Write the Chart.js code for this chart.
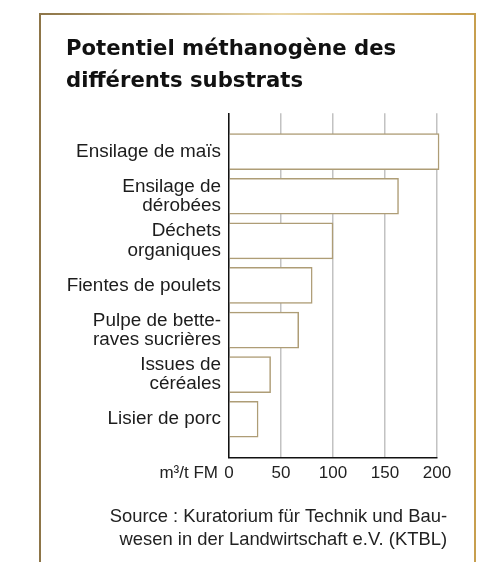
<!DOCTYPE html>
<html lang="fr">
<head>
<meta charset="utf-8">
<title>Potentiel méthanogène des différents substrats</title>
<script src="https://cdn.jsdelivr.net/npm/chart.js@4"></script>
<style>
  html, body { margin: 0; padding: 0; background: #fff; }
  #wrap { position: relative; width: 478px; height: 562px; overflow: hidden; }
  #frame {
    position: absolute; left: 39px; top: 13px; width: 433px; height: 600px;
    border-style: solid; border-width: 2px 2px 0 2px;
    border-image: linear-gradient(90deg, #8d7548, #e9d6a6 55%, #c79f4f) 1;
  }
  canvas { position: absolute; left: 0; top: 0; }
</style>
</head>
<body>
<div id="wrap">
  <div id="frame"></div>
  <canvas id="chart" width="478" height="562"></canvas>
</div>
<script>
// chart data
const substrates = [
  ['Ensilage de maïs'],
  ['Ensilage de', 'dérobées'],
  ['Déchets', 'organiques'],
  ['Fientes de poulets'],
  ['Pulpe de bette-', 'raves sucrières'],
  ['Issues de', 'céréales'],
  ['Lisier de porc']
];
const methaneYield = [202, 163, 100, 80, 67, 40, 28];
const xTickValues = [0, 50, 100, 150, 200];
const unitLabel = 'm³/t FM';
const titleLines = ['Potentiel méthanogène des', 'différents substrats'];
const sourceLines = ['Source : Kuratorium für Technik und Bau-', 'wesen in der Landwirtschaft e.V. (KTBL)'];

const sansFamily = "'Liberation Sans', Arial, sans-serif";
const tickFont = { family: sansFamily, size: 17 };
const tickPad = 6;

// writes the unit just left of the "0" tick
const unitPlugin = {
  id: 'unitLabel',
  afterDraw(chart) {
    const xs = chart.scales.x;
    const ctx = chart.ctx;
    ctx.save();
    ctx.font = tickFont.size + 'px ' + tickFont.family;
    ctx.fillStyle = '#222';
    ctx.textAlign = 'right';
    ctx.textBaseline = 'middle';
    const x0 = xs.getPixelForValue(xTickValues[0]);
    ctx.fillText(unitLabel, x0 - 11, xs.top + tickPad + tickFont.size * 1.2 / 2);
    ctx.restore();
  }
};

new Chart(document.getElementById('chart'), {
  type: 'bar',
  data: {
    datasets: [{
      data: methaneYield.map((v, i) => ({ x: v, y: i })),
      backgroundColor: '#ffffff',
      borderColor: '#ae9d76',
      borderWidth: 1.5,
      barThickness: 36,
      clip: false
    }]
  },
  options: {
    indexAxis: 'y',
    responsive: false,
    animation: false,
    layout: { padding: { top: 14, left: 66, right: 31, bottom: 5 } },
    plugins: {
      legend: { display: false },
      tooltip: { enabled: false },
      title: {
        display: true,
        text: titleLines,
        align: 'start',
        color: '#111',
        font: { family: "'DejaVu Sans', sans-serif", size: 21.2, weight: 'bold', lineHeight: 1.54 },
        padding: { top: 19, bottom: 15 }
      },
      subtitle: {
        display: true,
        position: 'bottom',
        text: sourceLines,
        align: 'end',
        color: '#222',
        font: { family: sansFamily, size: 18.4, lineHeight: 1.25 },
        padding: { top: 15, bottom: 6 }
      }
    },
    scales: {
      x: {
        type: 'linear',
        min: 0,
        max: 200,
        offset: false,
        afterFit(s) { s.paddingRight = 41; },
        afterBuildTicks(s) { s.ticks = xTickValues.map(v => ({ value: v })); },
        grid: { color: '#c2c2c2', lineWidth: 1.5, drawTicks: false },
        border: { display: true, color: '#111', width: 1.5 },
        ticks: { color: '#222', font: tickFont, padding: tickPad }
      },
      y: {
        type: 'linear',
        reverse: true,
        offset: false,
        min: -0.86,
        max: 6.86,
        afterFit(s) { s.width = 163; s.paddingTop = 0; s.paddingBottom = 0; },
        grid: { display: false, drawTicks: false },
        border: { display: true, color: '#111', width: 1.5 },
        ticks: {
          stepSize: 1,
          autoSkip: false,
          padding: 8,
          color: '#1c1c1c',
          font: { family: sansFamily, size: 18.9, lineHeight: 1.02 },
          callback: v => (Number.isInteger(v) && substrates[v]) ? substrates[v] : ''
        }
      }
    }
  },
  plugins: [unitPlugin]
});
</script>
</body>
</html>
